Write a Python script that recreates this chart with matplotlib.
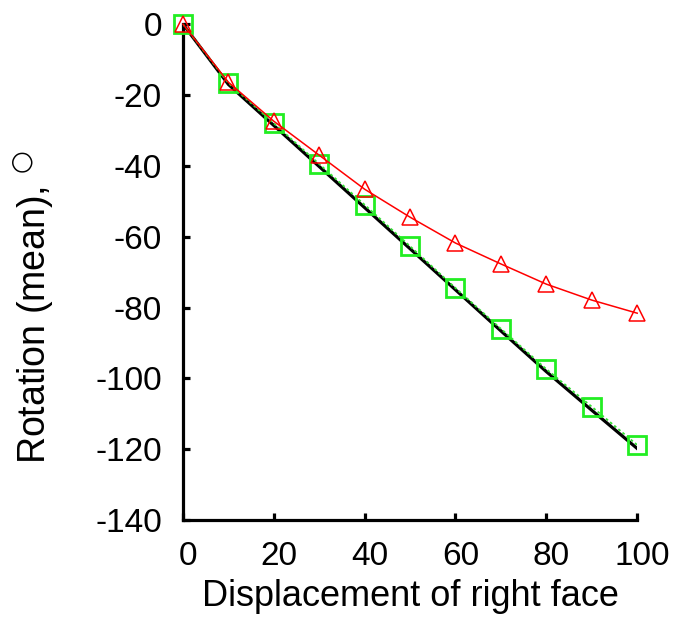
import numpy as np
import matplotlib
matplotlib.use('Agg')
import matplotlib.pyplot as plt
import matplotlib.transforms as mtransforms

plt.rcParams['font.family'] = ['Liberation Sans', 'DejaVu Sans']
plt.rcParams['axes.unicode_minus'] = False

# displacement steps
disp = [0, 10, 20, 30, 40, 50, 60, 70, 80, 90, 100]
rot_red = [0, -16.4, -27.4, -37.0, -46.6, -54.5, -61.8, -67.7, -73.4, -77.9, -81.6]
rot_green = [0, -16.6, -28.0, -39.5, -51.0, -62.7, -74.5, -86.0, -97.4, -108.0, -118.8]
rot_black = [0, -17.0, -28.6, -40.2, -51.8, -63.4, -75.0, -86.6, -98.1, -109.0, -119.8]

fig = plt.figure(figsize=(6.75, 6.35), dpi=100)
ax = fig.add_axes([0.271, 0.181, 0.673, 0.781])

ax.plot(disp, rot_black, '-', color='black', lw=2.3, zorder=2)
ax.plot(disp, rot_green, '--', color='#33dd33', lw=1.3, dashes=(1.5, 1.5),
        zorder=3)
ax.plot(disp, rot_green, 's', ms=12.5, mfc='none', mec='#22ee22', mew=2,
        clip_on=False, zorder=4)
ax.plot(disp, rot_red, '-', color='red', lw=1.1, marker='^', ms=12,
        mfc='none', mec='red', mew=1.1, clip_on=False, zorder=5)

ax.set_xlim(0, 100)
ax.set_ylim(-140, 0)
ax.set_xticks(np.arange(0, 101, 20))
ax.set_yticks(np.arange(-140, 1, 20))

for s in ['top', 'right']:
    ax.spines[s].set_visible(False)
for s in ['left', 'bottom']:
    ax.spines[s].set_linewidth(2.3)
ax.tick_params(direction='in', length=5, width=2.3, labelsize=24, pad=15)

# x tick labels sit a few pixels right of their ticks in the original
shift = mtransforms.ScaledTranslation(0.05, 0, fig.dpi_scale_trans)
for lab in ax.get_xticklabels():
    lab.set_transform(lab.get_transform() + shift)

ax.set_xlabel('Displacement of right face', fontsize=26, labelpad=5)
ax.set_ylabel('Rotation (mean), $^{\u25cb}$', fontsize=27)
ax.yaxis.set_label_coords(-0.28, 0.43)

fig.savefig('out.png', dpi=100)
